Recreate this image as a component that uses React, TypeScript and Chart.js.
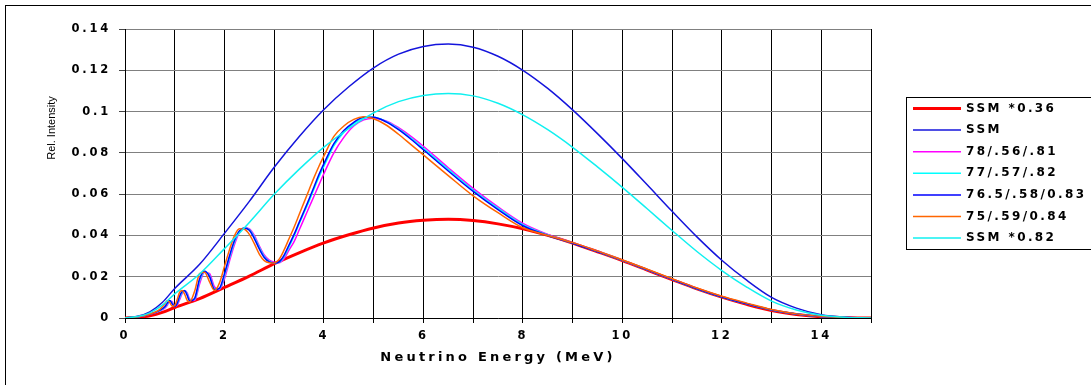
import React, { useEffect, useRef } from "react";
import { Chart, registerables, layouts } from "chart.js";

Chart.register(...registerables);

const W = 1091;
const H = 385;

// ---------- data ----------
const ssmEnergy = [0, 0.25, 0.5, 0.75, 1, 1.5, 2, 2.5, 3, 3.5, 4, 4.5, 5, 5.5, 6, 6.5, 7, 7.5, 8, 8.5, 9, 9.5, 10, 10.5, 11, 11.5, 12, 12.5, 13, 13.5, 14, 14.5, 15];

const ssm = [0, 0.0008, 0.003, 0.0075, 0.0143, 0.026, 0.041, 0.0565, 0.073, 0.0878, 0.101, 0.112, 0.1212, 0.1278, 0.1315, 0.1327, 0.1312, 0.1268, 0.12, 0.1112, 0.1008, 0.0893, 0.0772, 0.0645, 0.0517, 0.0393, 0.028, 0.0183, 0.01, 0.0048, 0.0016, 0.0004, 0];

const ssm036 = [0, 0.0003, 0.0011, 0.0027, 0.0051, 0.0094, 0.0148, 0.0203, 0.0263, 0.0316, 0.0364, 0.0403, 0.0436, 0.046, 0.0473, 0.0478, 0.0472, 0.0456, 0.0432, 0.04, 0.0363, 0.0321, 0.0278, 0.0232, 0.0186, 0.0141, 0.0101, 0.0066, 0.0036, 0.0017, 0.0006, 0.0001, 0];

const ssm082 = [0, 0.0007, 0.0025, 0.0062, 0.0117, 0.0213, 0.0336, 0.0463, 0.0599, 0.072, 0.0828, 0.0918, 0.0994, 0.1048, 0.1078, 0.1088, 0.1076, 0.104, 0.0984, 0.0912, 0.0827, 0.0732, 0.0633, 0.0529, 0.0424, 0.0322, 0.023, 0.015, 0.0082, 0.0039, 0.0013, 0.0003, 0];

const oscEnergy = [0, 0.2, 0.4, 0.6, 0.7, 0.8, 0.85, 0.9, 0.95, 1.0, 1.05, 1.1, 1.15, 1.2, 1.25, 1.3, 1.4, 1.5, 1.6, 1.7, 1.8, 1.9, 2.0, 2.1, 2.2, 2.3, 2.4, 2.5, 2.6, 2.7, 2.8, 2.9, 3.0, 3.1, 3.2, 3.3, 3.4, 3.5, 3.6, 3.7, 3.8, 3.9, 4.0, 4.2, 4.4, 4.6, 4.8, 5.0, 5.25, 5.5, 5.75, 6.0, 6.5, 7.0, 7.5, 8.0, 8.5, 9, 9.5, 10, 10.5, 11, 11.5, 12, 12.5, 13, 13.5, 14, 14.5, 15];

const osc78 = [0, 0.0003, 0.0012, 0.0025, 0.0035, 0.0048, 0.0062, 0.0082, 0.0078, 0.0058, 0.0062, 0.009, 0.0118, 0.0132, 0.0122, 0.0092, 0.0085, 0.0165, 0.0222, 0.0215, 0.015, 0.0138, 0.019, 0.0275, 0.0355, 0.0415, 0.0437, 0.0432, 0.04, 0.035, 0.0305, 0.028, 0.027, 0.0268, 0.0288, 0.033, 0.037, 0.0425, 0.048, 0.0535, 0.059, 0.0645, 0.07, 0.08, 0.0875, 0.093, 0.096, 0.0968, 0.0955, 0.0922, 0.088, 0.0832, 0.0728, 0.0628, 0.0538, 0.0458, 0.0405, 0.0365, 0.0323, 0.0279, 0.0234, 0.0188, 0.0143, 0.0103, 0.007, 0.004, 0.0019, 0.0007, 0.0002, 0];

const osc77 = [0, 0.0004, 0.0012, 0.0026, 0.0036, 0.0052, 0.0068, 0.0084, 0.0072, 0.0056, 0.0068, 0.01, 0.0124, 0.0133, 0.0115, 0.0086, 0.009, 0.018, 0.0225, 0.0205, 0.0142, 0.0142, 0.0205, 0.029, 0.0367, 0.042, 0.0436, 0.0428, 0.0392, 0.0342, 0.0298, 0.0275, 0.0267, 0.027, 0.0298, 0.0345, 0.0397, 0.0455, 0.051, 0.0565, 0.0625, 0.0683, 0.0735, 0.0835, 0.09, 0.0943, 0.0968, 0.0972, 0.0952, 0.0916, 0.0872, 0.0822, 0.072, 0.062, 0.0532, 0.0452, 0.0402, 0.0363, 0.0322, 0.0279, 0.0233, 0.0187, 0.0142, 0.0102, 0.0069, 0.0039, 0.0019, 0.0007, 0.0002, 0];

const osc765 = [0, 0.0004, 0.0013, 0.0027, 0.0038, 0.0055, 0.0072, 0.0085, 0.0068, 0.0056, 0.0072, 0.0108, 0.0128, 0.0132, 0.011, 0.0082, 0.0095, 0.019, 0.0226, 0.02, 0.0138, 0.0145, 0.0215, 0.03, 0.0375, 0.0422, 0.0435, 0.0425, 0.0385, 0.0335, 0.0293, 0.0272, 0.0266, 0.0272, 0.0305, 0.0355, 0.0405, 0.0462, 0.0518, 0.0575, 0.0635, 0.0695, 0.0748, 0.0845, 0.0908, 0.0948, 0.0972, 0.0973, 0.095, 0.0912, 0.0866, 0.0815, 0.0712, 0.0613, 0.0525, 0.0447, 0.04, 0.0362, 0.0321, 0.0279, 0.0233, 0.0187, 0.0142, 0.0102, 0.0069, 0.0039, 0.0019, 0.0007, 0.0002, 0];

const osc75 = [0, 0.0004, 0.0013, 0.0028, 0.0042, 0.0068, 0.0083, 0.0075, 0.0057, 0.006, 0.009, 0.0125, 0.0133, 0.0115, 0.0085, 0.0078, 0.013, 0.0215, 0.0222, 0.0175, 0.0133, 0.017, 0.025, 0.033, 0.0398, 0.0432, 0.043, 0.0405, 0.036, 0.031, 0.0278, 0.0268, 0.0267, 0.0285, 0.033, 0.0385, 0.044, 0.05, 0.056, 0.062, 0.068, 0.0735, 0.0785, 0.088, 0.093, 0.0962, 0.0975, 0.0965, 0.0935, 0.089, 0.084, 0.079, 0.069, 0.0592, 0.051, 0.0437, 0.04, 0.0365, 0.0324, 0.0281, 0.0236, 0.019, 0.0145, 0.0105, 0.0072, 0.0041, 0.002, 0.0008, 0.0002, 0];

const seriesLabels = ["SSM *0.36", "SSM", "78/.56/.81", "77/.57/.82", "76.5/.58/0.83", "75/.59/0.84", "SSM *0.82"];
const seriesColors = ["#FF0000", "#1414DC", "#FF00FF", "#00FFFF", "#0000FF", "#FF6600", "#10F0F0"];
const seriesWidths = [3, 1.5, 1.5, 1.5, 1.5, 1.5, 1.5];

const xTitle = "Neutrino Energy (MeV)";
const yTitle = "Rel. Intensity";
const xMin = 0;
const xMax = 15;
const xStep = 1;
const xLabelEvery = 2;
const yMin = 0;
const yMax = 0.14;
const yStep = 0.02;

const toPoints = (xs: number[], ys: number[]) => xs.map((x, i) => ({ x, y: ys[i] }));

const BOLD_FONT = "DejaVu Sans";

export default function App() {
  const ref = useRef<HTMLCanvasElement>(null);

  useEffect(() => {
    document.body.style.margin = "0";
    const canvas = ref.current as HTMLCanvasElement;

    const seriesData = [
      toPoints(ssmEnergy, ssm036),
      toPoints(ssmEnergy, ssm),
      toPoints(oscEnergy, osc78),
      toPoints(oscEnergy, osc77),
      toPoints(oscEnergy, osc765),
      toPoints(oscEnergy, osc75),
      toPoints(ssmEnergy, ssm082),
    ];

    const decorPlugin: any = {
      id: "decor",
      afterInit(chart: any) {
        const box: any = {
          position: "chartArea",
          fullSize: false,
          weight: 0,
          options: {},
          isHorizontal() {
            return false;
          },
          getPadding() {
            return { left: 0, right: 0, top: 0, bottom: 0 };
          },
          update() {},
          draw() {},
          _layers() {
            return [
              {
                z: -0.5,
                draw: () => {
                  (chart.ctx as any).letterSpacing = "2.8px";
                },
              },
            ];
          },
        };
        layouts.addBox(chart, box);
      },
      beforeDraw(chart: any) {
        (chart.ctx as any).letterSpacing = "3.2px";
      },
      afterDraw(chart: any) {
        const ctx = chart.ctx as any;
        ctx.save();
        ctx.letterSpacing = "0px";
        ctx.strokeStyle = "#000";
        ctx.lineWidth = 1;
        // outer frame
        ctx.strokeRect(5.5, 5.5, 1300, 600);
        // legend frame
        ctx.strokeRect(906.5, 97.5, 300, 152);
        const n = chart.data.datasets.length;
        for (let i = 0; i < n; i++) {
          const ds = chart.data.datasets[i];
          const y = 108.5 + i * 21.6;
          ctx.strokeStyle = ds.borderColor;
          ctx.lineWidth = ds.borderWidth;
          ctx.beginPath();
          ctx.moveTo(913, y);
          ctx.lineTo(961, y);
          ctx.stroke();
          ctx.fillStyle = "#000";
          ctx.font = `bold 12px "${BOLD_FONT}"`;
          ctx.letterSpacing = "2.4px";
          ctx.textBaseline = "middle";
          ctx.textAlign = "left";
          ctx.fillText(ds.label, 966, y);
        }
        // y-axis title
        ctx.letterSpacing = "0px";
        ctx.fillStyle = "#000";
        ctx.font = `11px "Liberation Sans"`;
        ctx.textAlign = "center";
        ctx.textBaseline = "middle";
        ctx.translate(51.5, 128);
        ctx.rotate(-Math.PI / 2);
        ctx.fillText(yTitle, 0, 0);
        ctx.restore();
      },
    };

    const n = seriesLabels.length;
    const chart = new Chart(canvas, {
      type: "line",
      data: {
        datasets: seriesLabels.map((label, i) => ({
          label,
          data: seriesData[i],
          borderColor: seriesColors[i],
          backgroundColor: seriesColors[i],
          borderWidth: seriesWidths[i],
          pointRadius: 0,
          fill: false,
          cubicInterpolationMode: "monotone",
          order: n - i,
        })),
      },
      options: {
        responsive: false,
        animation: false,
        devicePixelRatio: 1,
        layout: { padding: { left: 0, right: 220, top: 29, bottom: 0 } },
        plugins: {
          legend: { display: false },
          tooltip: { enabled: false },
          title: { display: false },
        },
        scales: {
          x: {
            type: "linear",
            min: xMin,
            max: xMax,
            afterFit: (s: any) => {
              s.height = 67;
            },
            ticks: {
              stepSize: xStep,
              autoSkip: false,
              maxRotation: 0,
              minRotation: 0,
              padding: 6,
              color: "#000",
              font: { family: BOLD_FONT, weight: "bold", size: 11.5 },
              callback: (v: any) => (Number(v) % xLabelEvery === 0 ? String(v) : ""),
            },
            grid: { color: "#000", lineWidth: 1, tickLength: 5, tickColor: "#000" },
            border: { color: "#000", width: 1 },
            title: {
              display: true,
              text: xTitle,
              color: "#000",
              font: { family: BOLD_FONT, weight: "bold", size: 13 },
              padding: { top: 0, bottom: 20 },
            },
          },
          y: {
            type: "linear",
            min: yMin,
            max: yMax,
            afterFit: (s: any) => {
              s.width = 125;
            },
            ticks: {
              stepSize: yStep,
              padding: 8,
              color: "#000",
              font: { family: BOLD_FONT, weight: "bold", size: 11.5 },
              callback: (v: any) => String(Number(Number(v).toFixed(2))),
            },
            grid: { color: "#808080", lineWidth: 1, tickLength: 6, tickColor: "#444" },
            border: { color: "#000", width: 1 },
            title: { display: false },
          },
        },
      } as any,
      plugins: [decorPlugin],
    } as any);

    return () => chart.destroy();
  }, []);

  return (
    <div style={{ width: W, height: H, overflow: "hidden" }}>
      <canvas ref={ref} width={W} height={H} style={{ display: "block" }} />
    </div>
  );
}
